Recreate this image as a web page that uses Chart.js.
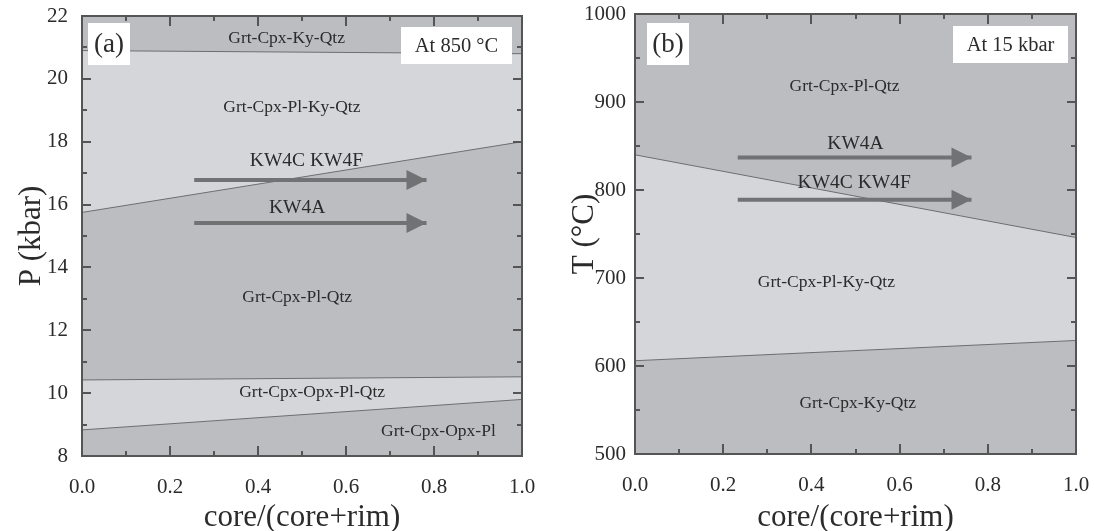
<!DOCTYPE html>
<html>
<head>
<meta charset="utf-8">
<script src="https://cdn.jsdelivr.net/npm/chart.js@4.4.0/dist/chart.umd.min.js"></script>
<style>
  html, body { margin: 0; padding: 0; background: #fff; }
  .panel { position: absolute; top: 0; width: 547px; height: 531px; }
  #wrapA { left: 0; }
  #wrapB { left: 547px; }
</style>
</head>
<body>
<div class="panel" id="wrapA"><canvas id="chartA" width="547" height="531"></canvas></div>
<div class="panel" id="wrapB"><canvas id="chartB" width="547" height="531"></canvas></div>
<script>
// x axis: fraction along the garnet profile, core -> rim
const coreFrac = [0, 1];

// (a) isothermal section at 850 °C, pressure in kbar
const pKyBoundary = [20.9, 20.8];     // Grt-Cpx-Ky-Qtz | Grt-Cpx-Pl-Ky-Qtz
const pKyOut = [15.75, 18.0];         // Grt-Cpx-Pl-Ky-Qtz | Grt-Cpx-Pl-Qtz
const pOpxIn = [10.42, 10.52];        // Grt-Cpx-Pl-Qtz | Grt-Cpx-Opx-Pl-Qtz
const pQtzOut = [8.83, 9.8];          // Grt-Cpx-Opx-Pl-Qtz | Grt-Cpx-Opx-Pl
const arrowXA = [0.255, 0.783];
const pKW4CF = [16.78, 16.78];
const pKW4A = [15.41, 15.41];

// (b) isobaric section at 15 kbar, temperature in °C
const tPlOut = [840, 746];            // Grt-Cpx-Pl-Qtz | Grt-Cpx-Pl-Ky-Qtz
const tPlIn = [606, 629];             // Grt-Cpx-Pl-Ky-Qtz | Grt-Cpx-Ky-Qtz
const arrowXB = [0.233, 0.763];
const tKW4A = [837, 837];
const tKW4CF = [789, 789];

// field labels: [x, value, text, font size]
const labelsA = [
  [0.465, 21.28, 'Grt-Cpx-Ky-Qtz', 17.5],
  [0.477, 19.1, 'Grt-Cpx-Pl-Ky-Qtz', 17.5],
  [0.51, 17.4, 'KW4C KW4F', 19.5],
  [0.489, 15.9, 'KW4A', 19.5],
  [0.489, 13.05, 'Grt-Cpx-Pl-Qtz', 17.5],
  [0.523, 10.02, 'Grt-Cpx-Opx-Pl-Qtz', 17.5],
  [0.81, 8.77, 'Grt-Cpx-Opx-Pl', 17.5]
];
const labelsB = [
  [0.475, 918, 'Grt-Cpx-Pl-Qtz', 17.5],
  [0.50, 852, 'KW4A', 19.5],
  [0.497, 808, 'KW4C KW4F', 19.5],
  [0.434, 695, 'Grt-Cpx-Pl-Ky-Qtz', 17.5],
  [0.505, 558, 'Grt-Cpx-Ky-Qtz', 17.5]
];

const DARK = '#bbbdc0';
const LIGHT = '#d5d6da';
const EDGE = '#6d6e70';
const ARROW = '#707274';
const FRAME = '#555555';
const INK = '#2b2b2b';
const SERIF = '"Liberation Serif", "DejaVu Serif", serif';

const pts = (xs, ys) => xs.map((x, i) => ({ x: x, y: ys[i] }));

function boundary(ys, fill) {
  return {
    data: pts(coreFrac, ys),
    borderColor: EDGE, borderWidth: 1,
    backgroundColor: LIGHT, fill: fill,
    pointRadius: 0, showLine: true, tension: 0
  };
}
function arrow(xs, ys) {
  return {
    data: pts(xs, ys), isArrow: true, order: -1,
    borderColor: ARROW, borderWidth: 4, fill: false,
    pointRadius: 0, showLine: true, tension: 0
  };
}

// dark background inside the plot, light fields come from the fills
const fieldBg = {
  id: 'fieldBg',
  beforeDraw(chart) {
    const { ctx, chartArea: a } = chart;
    ctx.save();
    ctx.fillStyle = DARK;
    ctx.fillRect(a.left, a.top, a.right - a.left, a.bottom - a.top);
    ctx.restore();
  }
};

// arrow heads, field names, inset boxes, frame and inward ticks
const overlay = {
  id: 'overlay',
  afterDatasetsDraw(chart) {
    const { ctx } = chart;
    const xs = chart.scales.x, ys = chart.scales.y;
    ctx.save();
    chart.data.datasets.forEach(ds => {
      if (!ds.isArrow) return;
      const p = ds.data[ds.data.length - 1];
      const px = xs.getPixelForValue(p.x), py = ys.getPixelForValue(p.y);
      ctx.fillStyle = ARROW;
      ctx.beginPath();
      ctx.moveTo(px, py);
      ctx.lineTo(px - 20, py - 10);
      ctx.lineTo(px - 20, py + 10);
      ctx.closePath();
      ctx.fill();
    });
    const o = chart.options.plugins.overlay;
    ctx.fillStyle = INK;
    ctx.textAlign = 'center';
    ctx.textBaseline = 'middle';
    o.labels.forEach(([x, v, t, size]) => {
      ctx.font = size + 'px ' + SERIF;
      ctx.fillText(t, xs.getPixelForValue(x), ys.getPixelForValue(v));
    });
    const a = chart.chartArea;
    o.boxes.forEach(b => {
      const bx = b.dx >= 0 ? a.left + b.dx : a.right + b.dx - b.w;
      const by = a.top + b.dy;
      ctx.fillStyle = '#ffffff';
      ctx.fillRect(bx, by, b.w, b.h);
      ctx.fillStyle = INK;
      ctx.font = b.size + 'px ' + SERIF;
      ctx.fillText(b.text, bx + b.w / 2, by + b.h / 2 + 1);
    });
    // ticks on all four sides, pointing inward
    ctx.strokeStyle = FRAME;
    ctx.lineWidth = 2;
    const tick = (x1, y1, x2, y2) => { ctx.beginPath(); ctx.moveTo(x1, y1); ctx.lineTo(x2, y2); ctx.stroke(); };
    for (let v = xs.min; v <= xs.max + 1e-9; v += 0.1) {
      const major = Math.round(v * 10) % 2 === 0;
      const len = major ? 10 : 5;
      const px = Math.round(xs.getPixelForValue(v));
      tick(px, a.bottom, px, a.bottom - len);
      tick(px, a.top, px, a.top + len);
    }
    const step = o.minorStep;
    for (let v = ys.min; v <= ys.max + 1e-9; v += step) {
      const major = Math.round((v - ys.min) / step) % 2 === 0;
      const len = major ? 9 : 5;
      const py = Math.round(ys.getPixelForValue(v));
      tick(a.left, py, a.left + len, py);
      tick(a.right, py, a.right - len, py);
    }
    ctx.strokeRect(a.left, a.top, a.right - a.left, a.bottom - a.top);
    ctx.restore();
  }
};

// keep the plot box exactly where the layout padding puts it
function noOverhang(s) {
  s.paddingLeft = 0; s.paddingRight = 0; s.paddingTop = 0; s.paddingBottom = 0;
}

function makeChart(id, cfg) {
  return new Chart(document.getElementById(id), {
    type: 'scatter',
    data: { datasets: cfg.datasets },
    options: {
      responsive: false,
      animation: false,
      layout: { padding: cfg.padding },
      plugins: {
        legend: { display: false },
        tooltip: { enabled: false },
        filler: { drawTime: 'beforeDatasetsDraw' },
        overlay: { labels: cfg.labels, boxes: cfg.boxes, minorStep: cfg.minorStep }
      },
      scales: {
        x: {
          type: 'linear', min: 0, max: 1,
          grid: { display: false, drawTicks: false },
          border: { display: false },
          ticks: { stepSize: 0.2, padding: 19, color: INK, font: { family: SERIF, size: 21 },
                   callback: v => v.toFixed(1) },
          title: { display: true, text: 'core/(core+rim)', color: INK,
                   font: { family: SERIF, size: 31, lineHeight: 0.85 }, padding: { top: 0, bottom: 0 } },
          afterFit: s => { s.height = cfg.xHeight; noOverhang(s); }
        },
        y: {
          type: 'linear', min: cfg.yMin, max: cfg.yMax,
          grid: { display: false, drawTicks: false },
          border: { display: false },
          ticks: { stepSize: cfg.yStep, padding: cfg.yPad, color: INK, font: { family: SERIF, size: 21 },
                   callback: v => String(v) },
          title: { display: true, text: cfg.yTitle, color: INK,
                   font: { family: SERIF, size: 31, lineHeight: 1 }, padding: { top: cfg.yTitlePad, bottom: 0 } },
          afterFit: s => { s.width = cfg.yWidth; noOverhang(s); }
        }
      }
    },
    plugins: [fieldBg, overlay]
  });
}

makeChart('chartA', {
  datasets: [
    boundary(pKyBoundary, '+1'),
    boundary(pKyOut, false),
    boundary(pOpxIn, '+1'),
    boundary(pQtzOut, false),
    arrow(arrowXA, pKW4CF),
    arrow(arrowXA, pKW4A)
  ],
  labels: labelsA,
  boxes: [
    { dx: 6, dy: 7, w: 42, h: 42, text: '(a)', size: 27 },
    { dx: -10, dy: 11, w: 111, h: 37, text: 'At 850 °C', size: 20.5 }
  ],
  yMin: 8, yMax: 22, yStep: 2, minorStep: 1,
  yTitle: 'P (kbar)', yTitlePad: 16, yPad: 14, yWidth: 82, xHeight: 75,
  padding: { left: 0, top: 16, right: 25, bottom: 0 }
});

makeChart('chartB', {
  datasets: [
    boundary(tPlOut, '+1'),
    boundary(tPlIn, false),
    arrow(arrowXB, tKW4A),
    arrow(arrowXB, tKW4CF)
  ],
  labels: labelsB,
  boxes: [
    { dx: 12, dy: 9, w: 42, h: 42, text: '(b)', size: 27 },
    { dx: -8, dy: 12, w: 115, h: 37, text: 'At 15 kbar', size: 20.5 }
  ],
  yMin: 500, yMax: 1000, yStep: 100, minorStep: 50,
  yTitle: 'T (°C)', yTitlePad: 22, yPad: 9, yWidth: 88, xHeight: 77,
  padding: { left: 0, top: 14, right: 18, bottom: 0 }
});
</script>
</body>
</html>
